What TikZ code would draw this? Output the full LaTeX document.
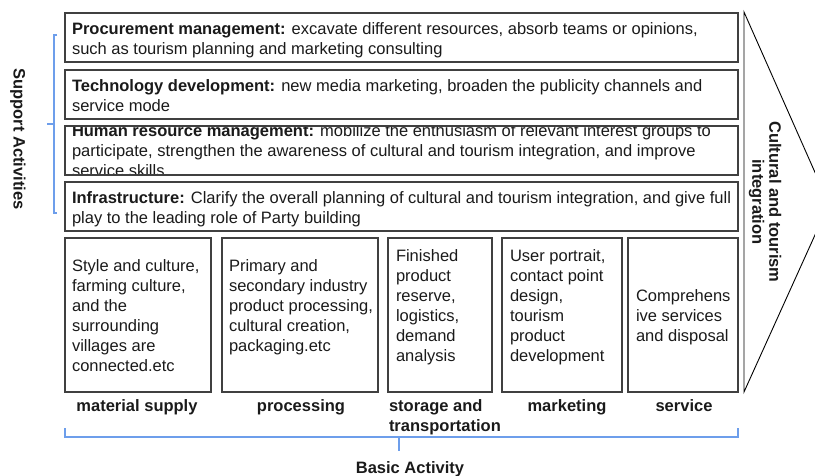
\documentclass[tikz,border=0pt]{standalone}
\usepackage{fontspec}
\setmainfont{Liberation Sans}
\definecolor{boxgray}{HTML}{404040}
\definecolor{txt}{HTML}{1A1A1A}
\definecolor{brace}{HTML}{6D9EEB}
\begin{document}
\begin{tikzpicture}[x=1pt,y=-1pt,
  every node/.style={inner sep=0pt, outer sep=0pt, text=txt,
                     font=\fontsize{16.5}{20}\selectfont},
  box/.style={draw=boxgray, line width=1.4pt, anchor=north west},
  body/.style={anchor=north west, align=left},
  stage/.style={anchor=base, font=\fontsize{16.5}{20}\selectfont\bfseries},
  sidelabel/.style={rotate=-90, align=center, font=\fontsize{16.5}{17}\selectfont\bfseries},
  bracket/.style={draw=brace, line width=1.2pt}]
\useasboundingbox (0,0) rectangle (815,476);
\clip (0,0) rectangle (815,476);

% support activities
\node[box, minimum width=673, minimum height=49] (pm) at (65,13) {};
\node[box, minimum width=673, minimum height=49] (td) at (65,70) {};
\node[box, minimum width=673, minimum height=49] (hr) at (65,126) {};
\node[box, minimum width=673, minimum height=49] (inf) at (65,182) {};

\node[body] (pmt) at (72,23) {\textbf{Procurement management:} excavate different resources, absorb teams or opinions,\\such as tourism planning and marketing consulting};
\node[body] (tdt) at (72,80) {\textbf{Technology development:} new media marketing, broaden the publicity channels and\\service mode};
\begin{scope}
  \clip (65,126) rectangle (738,175);
  \node[body] (hrt) at (72,124.5) {\textbf{Human resource management:} mobilize the enthusiasm of relevant interest groups to\\participate, strengthen the awareness of cultural and tourism integration, and improve\\service skills};
\end{scope}
\draw[boxgray, line width=1.4pt] (hr.north west) rectangle (hr.south east);
\node[body] (inft) at (72,192) {\textbf{Infrastructure:} Clarify the overall planning of cultural and tourism integration, and give full\\play to the leading role of Party building};

% primary activities
\node[box, minimum width=146, minimum height=154] (ms) at (65,238) {};
\node[box, minimum width=156, minimum height=154] (pr) at (222,238) {};
\node[box, minimum width=104, minimum height=154] (st) at (388,238) {};
\node[box, minimum width=120, minimum height=154] (mk) at (502,238) {};
\node[box, minimum width=110, minimum height=154] (sv) at (628,238) {};

\node[body] (mst) at (72,260) {Style and culture,\\farming culture,\\and the\\surrounding\\villages are\\connected.etc};
\node[body] (prt) at (229,260) {Primary and\\secondary industry\\product processing,\\cultural creation,\\packaging.etc};
\node[body] (stt) at (396,250) {Finished\\product\\reserve,\\logistics,\\demand\\analysis};
\node[body] (mkt) at (510,250) {User portrait,\\contact point\\design,\\tourism\\product\\development};
\node[body] (svt) at (636,290) {Comprehens\\ive services\\and disposal};

\node[stage] (msl) at (137,411) {material supply};
\node[stage] (prl) at (301,411) {processing};
\node[stage, anchor=base west, align=left] (stl) at (389,431) {storage and\\transportation};
\node[stage] (mkl) at (567,411) {marketing};
\node[stage] (svl) at (684,411) {service};

% margin arrow
\coordinate (at) at (744,12);
\coordinate (ab) at (744,392);
\coordinate (ap) at (829,204);
\draw[black, line width=0.9pt, line join=miter] (ap) -- (at) -- (ab) -- cycle;
\node[sidelabel] (ctl) at (765,202) {Cultural and tourism\\integration};

% brackets
\draw[bracket] (57,35) -- (54,35) -- (54,213) -- (57,213);
\draw[bracket] (54,124) -- (47,124);
\node[sidelabel] (sal) at (18,139) {Support Activities};

\draw[bracket] (65,428) -- (65,437) -- (738,437) -- (738,428);
\draw[bracket] (399,437) -- (399,451);
\node[stage] (bal) at (410,473) {Basic Activity};
\end{tikzpicture}
\end{document}
